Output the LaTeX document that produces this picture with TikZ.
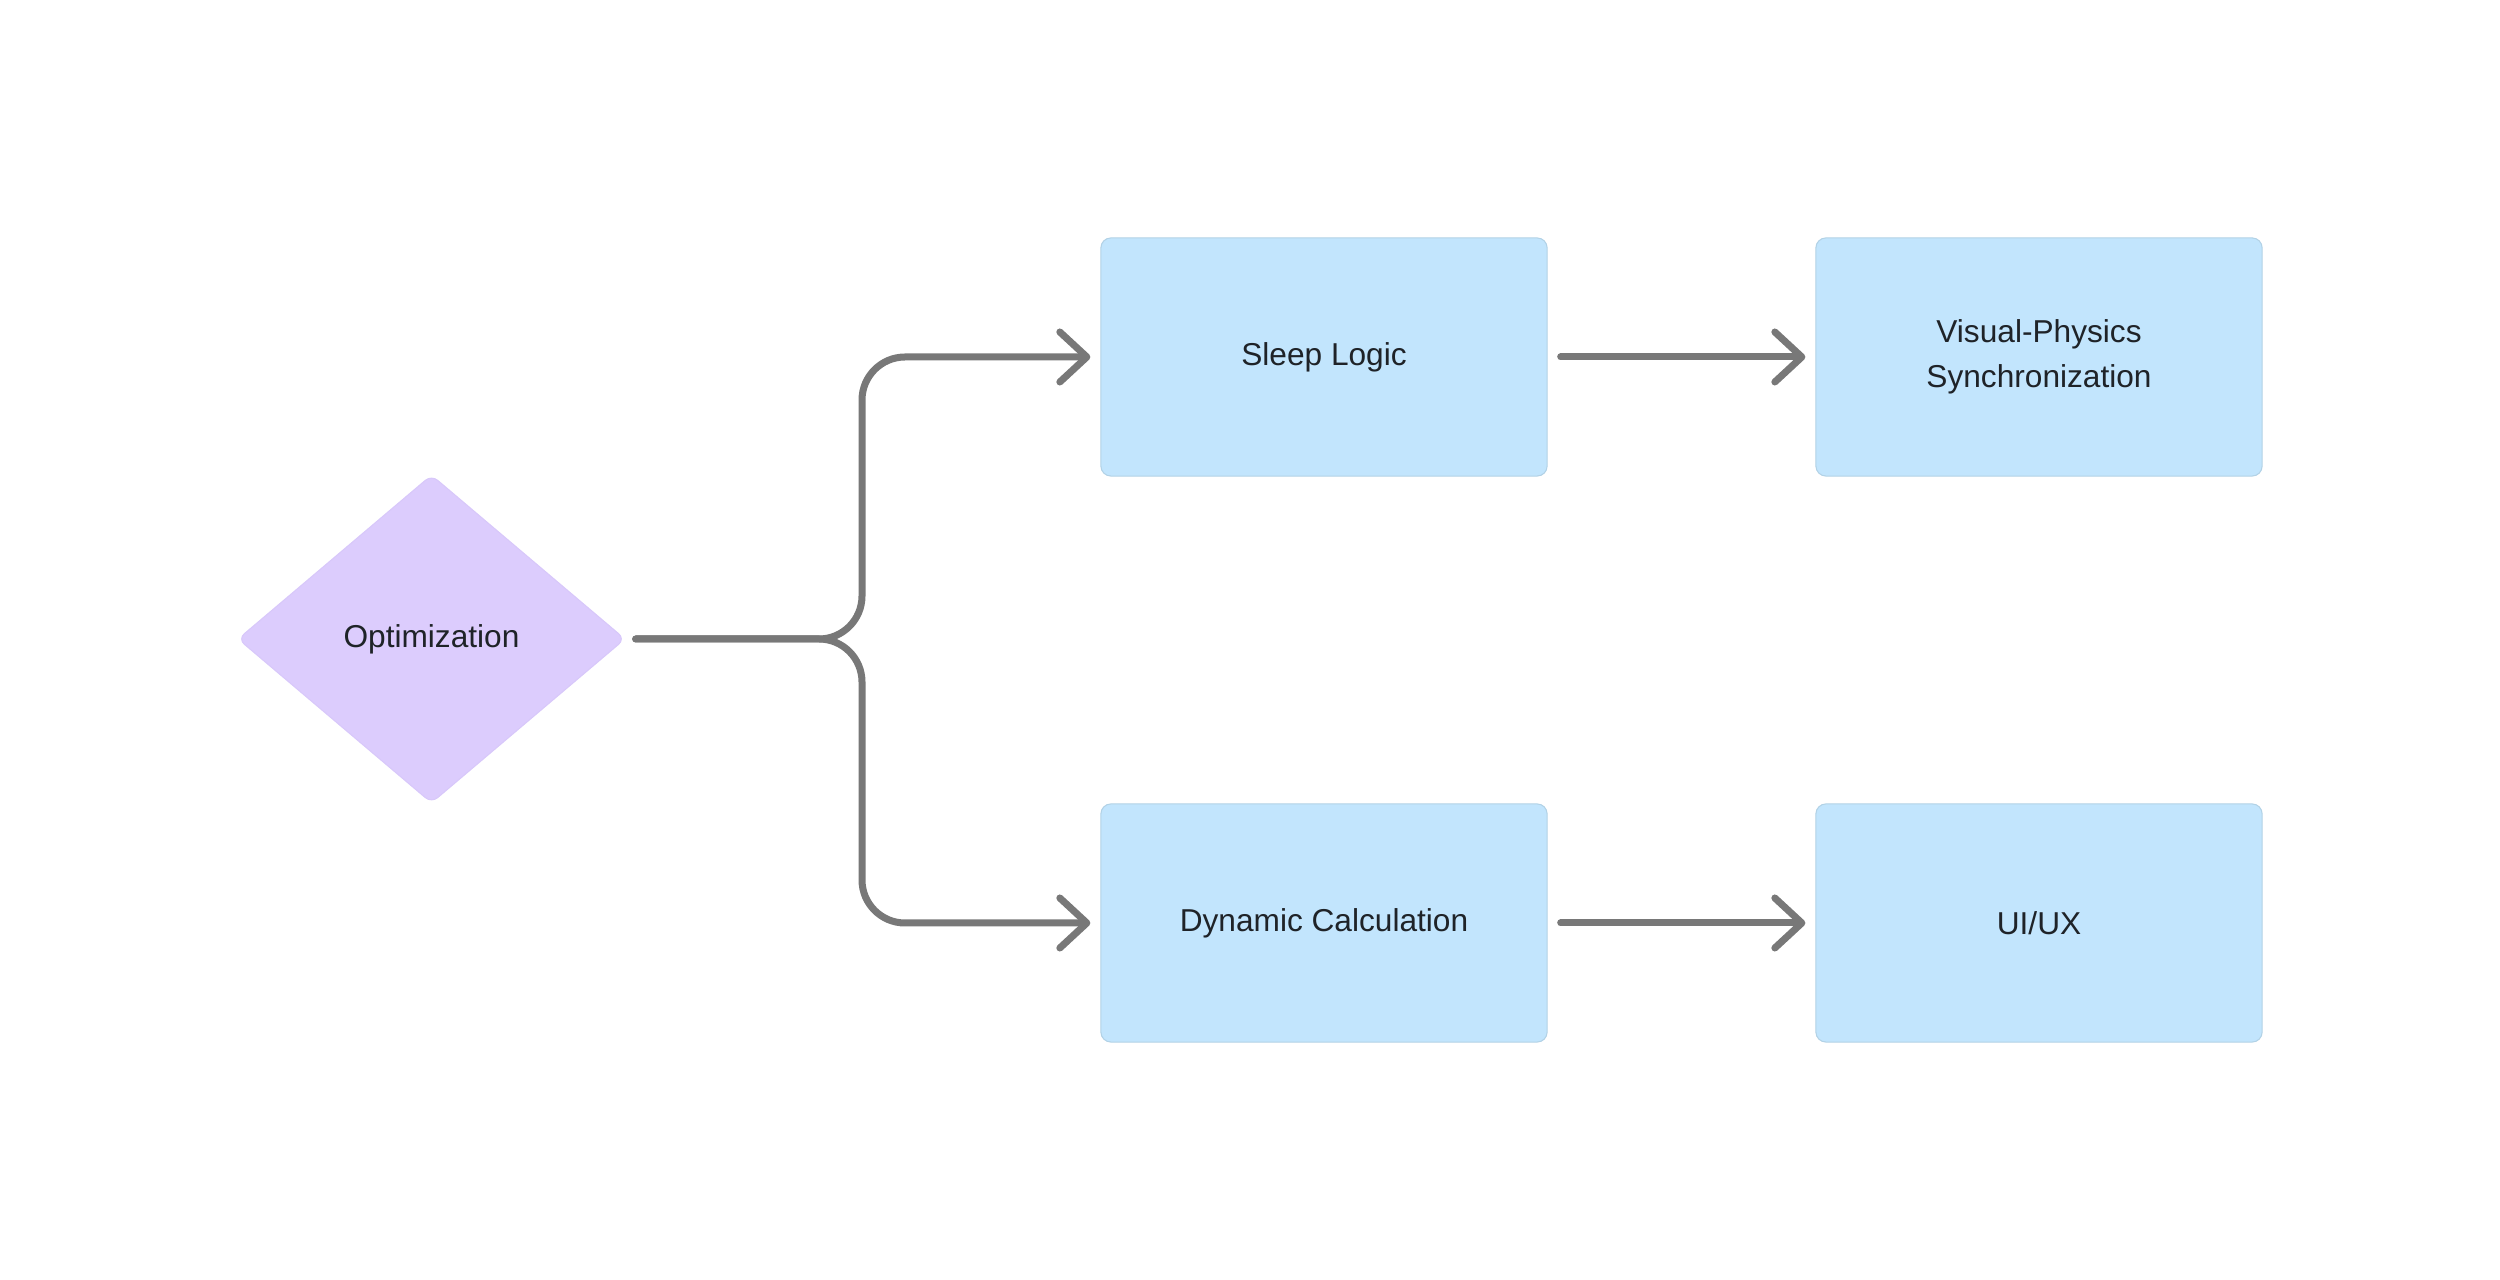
\documentclass[tikz,border=0pt]{standalone}
\usepackage{fontspec}
\setmainfont{Liberation Sans}
\usetikzlibrary{arrows.meta,shapes.geometric}
\definecolor{boxfill}{HTML}{C2E5FD}
\definecolor{boxline}{HTML}{B2D2E6}
\definecolor{diafill}{HTML}{DCCCFD}
\definecolor{dialine}{HTML}{D8C8FA}
\definecolor{conncol}{HTML}{787878}
\definecolor{txt}{HTML}{1F2328}
\tikzset{
  stepbox/.style={rectangle, rounded corners=0.1cm, fill=boxfill, draw=boxline, line width=0.3pt,
    minimum width=4.46cm, minimum height=2.38cm, align=center, text=txt,
    font=\fontsize{9pt}{12.8pt}\selectfont},
  decide/.style={diamond, fill=diafill, draw=dialine, line width=0.3pt, rounded corners=0.08cm,
    minimum width=3.87cm, minimum height=3.28cm, inner sep=0pt, text=txt,
    font=\fontsize{9pt}{12.8pt}\selectfont},
  conn/.style={draw=conncol, line width=0.07cm, line cap=round, line join=round,
    rounded corners=0.43cm,
    -{Straight Barb[length=0.27cm,width=0.5cm,round]}},
}
\begin{document}
\begin{tikzpicture}[x=0.01cm, y=-0.01cm]
\useasboundingbox (0,0) rectangle (2500,1280);
\node[decide] (opt) at (431.5,639) {Optimization};
\node[stepbox] (sleep) at (1324,357) {Sleep Logic};
\node[stepbox] (vis) at (2039,357) {Visual-Physics\\Synchronization};
\node[stepbox] (dyn) at (1324,923) {Dynamic Calculation};
\node[stepbox] (ui) at (2039,923) {UI/UX};
\coordinate (jn) at (862,639);
\draw[conn] ([xshift=0.1cm]opt.east) -- (jn) |- ([xshift=-0.1cm]sleep.west);
\draw[conn] ([xshift=0.1cm]opt.east) -- (jn) |- ([xshift=-0.1cm]dyn.west);
\draw[conn] ([xshift=0.13cm]sleep.east) -- ([xshift=-0.1cm]vis.west);
\draw[conn] ([xshift=0.13cm]dyn.east) -- ([xshift=-0.1cm]ui.west);
\end{tikzpicture}
\end{document}
